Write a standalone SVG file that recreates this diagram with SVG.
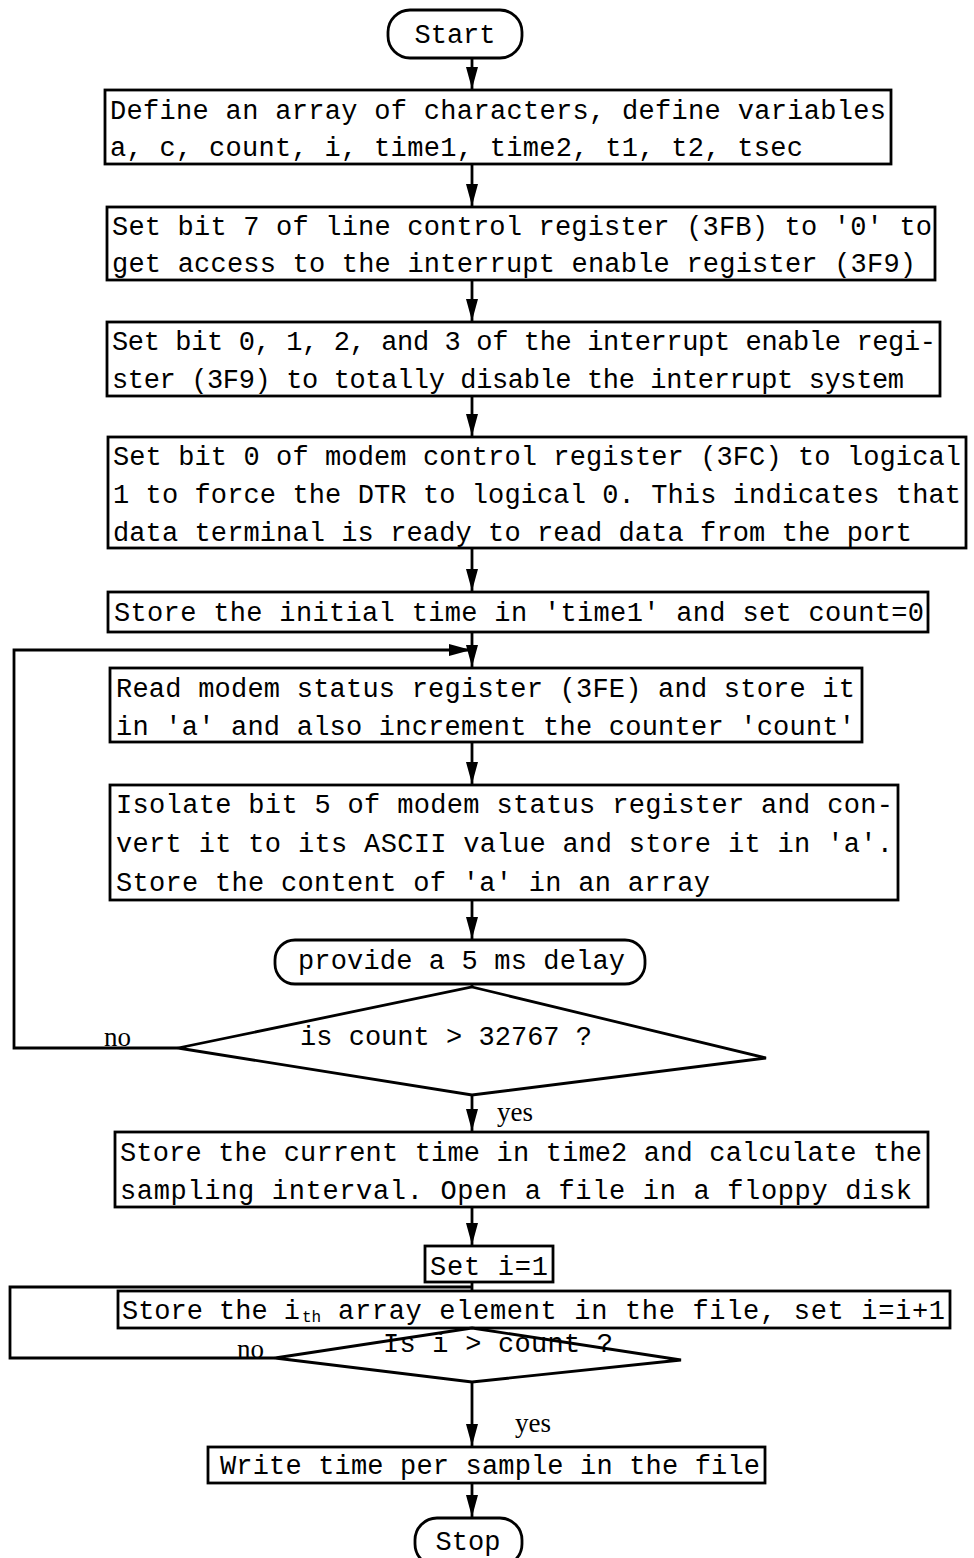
<svg xmlns="http://www.w3.org/2000/svg" width="974" height="1558" viewBox="0 0 974 1558">
<style>
.box{fill:#fff;stroke:#000;stroke-width:2.8}
.conn{fill:none;stroke:#000;stroke-width:2.8}
text{font-family:"Liberation Mono","DejaVu Sans Mono",monospace;font-size:27px;fill:#000}
.lbl{font-family:"Liberation Serif",serif;font-size:27px}
</style>
<defs>
<marker id="ah" viewBox="0 0 22 12" refX="22" refY="6" markerWidth="22" markerHeight="12" markerUnits="userSpaceOnUse" orient="auto">
<path d="M0,0 L22,6 L0,12 z" fill="#000"/>
</marker>
</defs>
<g id="connectors">
<line class="conn" x1="472" y1="58" x2="472" y2="89" marker-end="url(#ah)"/>
<line class="conn" x1="472" y1="164" x2="472" y2="206" marker-end="url(#ah)"/>
<line class="conn" x1="472" y1="280" x2="472" y2="321" marker-end="url(#ah)"/>
<line class="conn" x1="472" y1="396" x2="472" y2="436" marker-end="url(#ah)"/>
<line class="conn" x1="472" y1="548" x2="472" y2="591" marker-end="url(#ah)"/>
<line class="conn" x1="472" y1="632" x2="472" y2="667" marker-end="url(#ah)"/>
<polyline class="conn" points="178,1048 14,1048 14,650 471,650" marker-end="url(#ah)"/>
<line class="conn" x1="472" y1="742" x2="472" y2="784" marker-end="url(#ah)"/>
<line class="conn" x1="472" y1="900" x2="472" y2="939" marker-end="url(#ah)"/>
<line class="conn" x1="472" y1="984" x2="472" y2="987"/>
<line class="conn" x1="472" y1="1095" x2="472" y2="1131" marker-end="url(#ah)"/>
<line class="conn" x1="472" y1="1207" x2="472" y2="1245" marker-end="url(#ah)"/>
<line class="conn" x1="472" y1="1282" x2="472" y2="1290"/>
<polyline class="conn" points="275,1358 10,1358 10,1287 472,1287"/>
<line class="conn" x1="472" y1="1382" x2="472" y2="1446" marker-end="url(#ah)"/>
<line class="conn" x1="472" y1="1483" x2="472" y2="1517" marker-end="url(#ah)"/>
<text class="lbl" x="104" y="1046">no</text>
<text class="lbl" x="497" y="1121">yes</text>
<text class="lbl" x="237" y="1358">no</text>
<text class="lbl" x="515" y="1432">yes</text>
</g>
<g id="start">
<rect class="box" x="388" y="10" width="134" height="48" rx="22"/>
<text x="455" y="43" text-anchor="middle">Start</text>
</g>
<g id="define">
<rect class="box" x="105" y="90" width="786" height="74"/>
<text x="110" y="119" textLength="776" lengthAdjust="spacing">Define an array of characters, define variables</text>
<text x="110" y="156" textLength="693" lengthAdjust="spacing">a, c, count, i, time1, time2, t1, t2, tsec</text>
</g>
<g id="setbit7">
<rect class="box" x="107" y="207" width="828" height="73"/>
<text x="112" y="235" textLength="820" lengthAdjust="spacing">Set bit 7 of line control register (3FB) to '0' to</text>
<text x="112" y="272" textLength="804" lengthAdjust="spacing">get access to the interrupt enable register (3F9)</text>
</g>
<g id="setbits0123">
<rect class="box" x="107" y="322" width="833" height="74"/>
<text x="112" y="350" textLength="824" lengthAdjust="spacing">Set bit 0, 1, 2, and 3 of the interrupt enable regi-</text>
<text x="112" y="388" textLength="792" lengthAdjust="spacing">ster (3F9) to totally disable the interrupt system</text>
</g>
<g id="modemcontrol">
<rect class="box" x="108" y="437" width="858" height="111"/>
<text x="113" y="465" textLength="848" lengthAdjust="spacing">Set bit 0 of modem control register (3FC) to logical</text>
<text x="113" y="503" textLength="848" lengthAdjust="spacing">1 to force the DTR to logical 0. This indicates that</text>
<text x="113" y="541" textLength="799" lengthAdjust="spacing">data terminal is ready to read data from the port</text>
</g>
<g id="inittime">
<rect class="box" x="108" y="592" width="820" height="40"/>
<text x="114" y="621" textLength="810" lengthAdjust="spacing">Store the initial time in 'time1' and set count=0</text>
</g>
<g id="readstatus">
<rect class="box" x="110" y="668" width="752" height="74"/>
<text x="116" y="697" textLength="739" lengthAdjust="spacing">Read modem status register (3FE) and store it</text>
<text x="116" y="735" textLength="739" lengthAdjust="spacing">in 'a' and also increment the counter 'count'</text>
</g>
<g id="isolate">
<rect class="box" x="110" y="785" width="788" height="115"/>
<text x="116" y="813" textLength="777" lengthAdjust="spacing">Isolate bit 5 of modem status register and con-</text>
<text x="116" y="852" textLength="777" lengthAdjust="spacing">vert it to its ASCII value and store it in 'a'.</text>
<text x="116" y="891" textLength="594" lengthAdjust="spacing">Store the content of 'a' in an array</text>
</g>
<g id="delay">
<rect class="box" x="275" y="940" width="370" height="44" rx="20"/>
<text x="298" y="969" textLength="327" lengthAdjust="spacing">provide a 5 ms delay</text>
</g>
<g id="countcheck">
<polygon class="box" points="472,987 766,1058 472,1095 178,1048"/>
<text x="300" y="1045" textLength="292" lengthAdjust="spacing">is count &gt; 32767 ?</text>
</g>
<g id="storecurrent">
<rect class="box" x="115" y="1132" width="813" height="75"/>
<text x="120" y="1161" textLength="802" lengthAdjust="spacing">Store the current time in time2 and calculate the</text>
<text x="120" y="1199" textLength="792" lengthAdjust="spacing">sampling interval. Open a file in a floppy disk</text>
</g>
<g id="seti">
<rect class="box" x="425" y="1246" width="128" height="36"/>
<text x="430" y="1275" textLength="118" lengthAdjust="spacing">Set i=1</text>
</g>
<g id="storeelement">
<rect class="box" x="118" y="1291" width="832" height="37"/>
<text x="122" y="1319" textLength="178" lengthAdjust="spacing">Store the i</text>
<text x="302" y="1322" style="font-size:16px">th</text>
<text x="338" y="1319" textLength="607" lengthAdjust="spacing">array element in the file, set i=i+1</text>
</g>
<g id="icheck">
<polygon class="box" points="472,1328 681,1360 472,1382 275,1358"/>
<text x="383" y="1352" textLength="230" lengthAdjust="spacing">Is i &gt; count ?</text>
</g>
<g id="writetime">
<rect class="box" x="208" y="1447" width="557" height="36"/>
<text x="220" y="1474" textLength="540" lengthAdjust="spacing">Write time per sample in the file</text>
</g>
<g id="stop">
<rect class="box" x="415" y="1518" width="107" height="48" rx="22"/>
<text x="468" y="1550" text-anchor="middle">Stop</text>
</g>
</svg>
